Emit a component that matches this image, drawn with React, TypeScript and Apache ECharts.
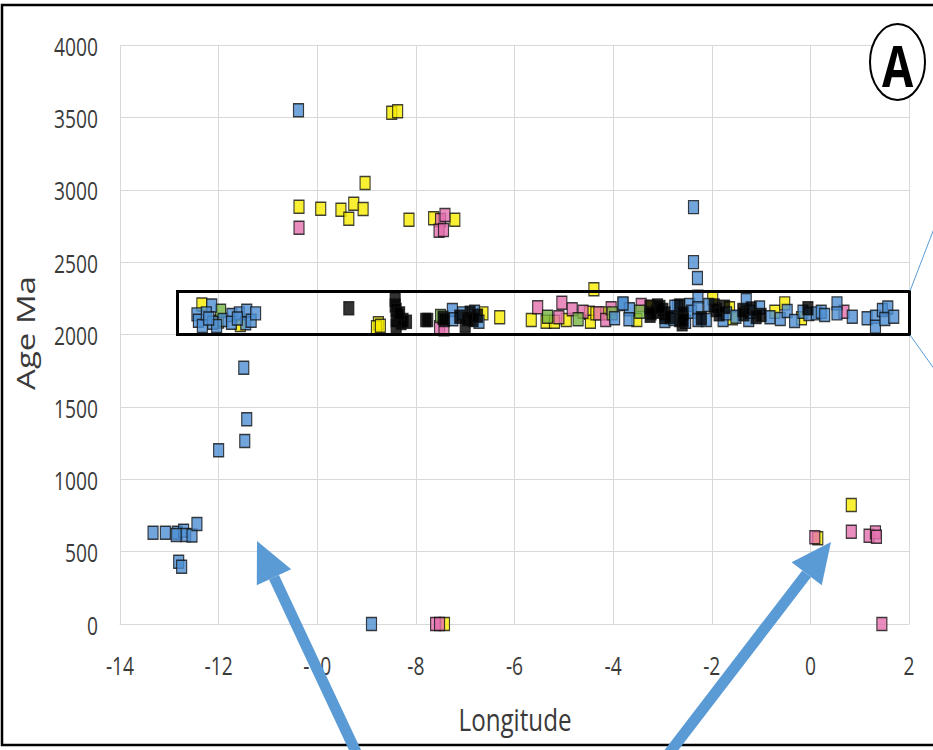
import React, { useEffect, useRef } from "react";
import * as echarts from "echarts";

// ---- tick settings ----
const xMin = -14;
const xMax = 2;
const xStep = 2;
const yMin = 0;
const yMax = 4000;
const yStep = 500;
const xTicks = [-14, -12, -10, -8, -6, -4, -2, 0, 2];
const yTicks = [0, 500, 1000, 1500, 2000, 2500, 3000, 3500, 4000];

// ---- series data: [longitude, age Ma] ----
const blueData: number[][] = [
  [-10.38, 3550], [-2.37, 2880], [-2.37, 2500], [-2.29, 2390],
  [-11.49, 1770], [-11.43, 1415], [-11.47, 1265], [-12.0, 1200], [-8.9, 0],
  [-13.33, 631], [-13.08, 631], [-12.84, 631], [-12.71, 645], [-12.67, 615],
  [-12.54, 611], [-12.44, 691], [-12.86, 615], [-12.81, 430], [-12.75, 396],
  [-12.14, 2201], [-12.44, 2139], [-12.41, 2095], [-12.33, 2059], [-12.25, 2146],
  [-12.12, 2081], [-11.91, 2100], [-11.73, 2135], [-11.74, 2081], [-11.58, 2146],
  [-11.43, 2164], [-11.45, 2077], [-11.34, 2095], [-11.25, 2146], [-12.04, 2059],
  [-12.2, 2110], [-11.62, 2110],
  [-7.26, 2169], [-7.25, 2105], [-7.05, 2146], [-6.81, 2157], [-6.72, 2088],
  [-3.97, 2112], [-3.8, 2211], [-3.67, 2174], [-3.68, 2105], [-3.8, 2215],
  [-2.95, 2093], [-2.77, 2107], [-2.69, 2192], [-2.75, 2192], [-2.53, 2088],
  [-2.45, 2204], [-2.41, 2157], [-2.28, 2261], [-2.28, 2181], [-2.28, 2100],
  [-2.11, 2100], [-2.06, 2204], [-1.77, 2100], [-1.7, 2146], [-1.51, 2123],
  [-1.3, 2238], [-1.25, 2100], [-1.22, 2157], [-1.03, 2186], [-0.82, 2119],
  [-0.61, 2107], [-0.47, 2162], [-0.32, 2093], [-0.15, 2157], [-0.03, 2142],
  [0.12, 2146], [0.22, 2157], [0.29, 2135], [0.54, 2215], [0.54, 2146],
  [0.85, 2123], [1.15, 2112], [1.32, 2123], [1.32, 2054], [1.46, 2169],
  [1.57, 2186], [1.51, 2107], [1.69, 2123]
];

const yellowData: number[][] = [
  [-10.37, 2883], [-9.93, 2869], [-9.52, 2862], [-9.36, 2800], [-9.26, 2903],
  [-9.07, 2867], [-9.03, 3046], [-8.49, 3532], [-8.37, 3542], [-8.14, 2793],
  [-7.64, 2803], [-7.21, 2793], [-7.42, 0],
  [0.83, 822], [0.15, 592],
  [-12.34, 2208], [-11.56, 2066], [-12.0, 2090],
  [-8.76, 2077], [-8.8, 2050], [-8.72, 2060],
  [-6.64, 2146], [-6.3, 2119], [-4.39, 2312], [-5.66, 2100], [-5.36, 2088],
  [-5.19, 2088], [-4.95, 2100], [-4.48, 2150], [-4.46, 2088], [-4.35, 2146],
  [-4.15, 2146], [-3.52, 2100], [-3.26, 2192], [-1.98, 2250], [-1.64, 2181],
  [-1.58, 2112], [-0.72, 2157], [-0.52, 2215], [-0.18, 2112]
];

const pinkData: number[][] = [
  [-10.37, 2738], [-7.5, 2791], [-7.41, 2825], [-7.53, 2717], [-7.44, 2722],
  [-7.6, 0], [-7.52, 0], [1.45, 0],
  [0.83, 638], [0.09, 599], [1.19, 610], [1.32, 633], [1.34, 603],
  [-7.52, 2050], [-7.43, 2036],
  [-5.53, 2188], [-5.04, 2220], [-5.1, 2119], [-4.83, 2174], [-4.61, 2157],
  [-4.29, 2146], [-4.15, 2100], [-4.04, 2181], [-3.43, 2204], [0.68, 2157]
];

const greenData: number[][] = [
  [-11.96, 2164], [-7.5, 2128], [-5.33, 2123], [-4.71, 2105], [-4.02, 2146],
  [-3.46, 2157]
];

const blackData: number[][] = [
  [-9.36, 2181], [-8.42, 2240], [-8.42, 2200], [-8.4, 2169], [-8.4, 2100],
  [-8.4, 2059], [-8.36, 2130], [-8.3, 2080], [-8.26, 2100], [-8.19, 2088],
  [-8.33, 2146],
  [-7.8, 2100], [-7.76, 2100], [-7.45, 2115], [-7.42, 2100], [-7.11, 2123],
  [-7.0, 2060], [-6.95, 2105], [-6.9, 2150], [-6.84, 2100], [-6.75, 2130],
  [-3.25, 2190], [-3.25, 2130], [-3.1, 2200], [-3.12, 2157], [-3.23, 2146],
  [-2.95, 2146], [-2.95, 2120], [-2.99, 2169], [-3.05, 2190], [-2.85, 2120],
  [-2.65, 2200], [-2.65, 2100], [-2.6, 2070], [-2.58, 2146], [-2.58, 2100],
  [-2.21, 2112], [-1.95, 2200], [-1.91, 2169], [-1.85, 2140], [-1.74, 2192],
  [-1.37, 2169], [-1.35, 2140], [-1.2, 2180], [-1.1, 2120], [-1.0, 2135],
  [-0.05, 2181]
];

const FONT = "'Open Sans', sans-serif";
const TEXT = "#3a3a3a";
const ARROW = "#5b9bd5";

function arrowPolys(tail: number[], tip: number[], headLen: number, headHalf: number, shaftHalf: number) {
  const dx = tip[0] - tail[0];
  const dy = tip[1] - tail[1];
  const L = Math.hypot(dx, dy);
  const ux = dx / L, uy = dy / L;
  const nx = -uy, ny = ux;
  const bx = tip[0] - headLen * ux, by = tip[1] - headLen * uy;
  const head = [
    [tip[0], tip[1]],
    [bx + headHalf * nx, by + headHalf * ny],
    [bx - headHalf * nx, by - headHalf * ny]
  ];
  const shaft = [
    [bx + shaftHalf * nx, by + shaftHalf * ny],
    [tail[0] + shaftHalf * nx, tail[1] + shaftHalf * ny],
    [tail[0] - shaftHalf * nx, tail[1] - shaftHalf * ny],
    [bx - shaftHalf * nx, by - shaftHalf * ny]
  ];
  return [
    { type: "polygon", shape: { points: shaft }, style: { fill: ARROW }, z: 100 },
    { type: "polygon", shape: { points: head }, style: { fill: ARROW }, z: 100 }
  ];
}

function mkSeries(name: string, data: number[][], color: string) {
  return {
    name,
    type: "scatter",
    data,
    symbol: "rect",
    symbolSize: [10, 13],
    itemStyle: { color, borderColor: "#111", borderWidth: 1.3 }
  };
}

export default function App() {
  const ref = useRef<HTMLDivElement>(null);
  useEffect(() => {
    if (!ref.current) return;
    const chart = echarts.init(ref.current, null, { renderer: "svg" });
    const arrow1 = arrowPolys([362, 765], [257, 541], 40, 19, 5.5);
    const arrow2 = arrowPolys([660, 765], [831, 542], 40, 19, 5.5);
    const baseGraphic: any[] = [
      {
        type: "rect",
        shape: { x: 2, y: 5, width: 960, height: 740 },
        style: { fill: "none", stroke: "#000", lineWidth: 2.5 },
        z: 90
      },
      {
        type: "rect",
        shape: { x: 177.5, y: 291.5, width: 732, height: 43 },
        style: { fill: "none", stroke: "#000", lineWidth: 3 },
        z: 90
      },
      {
        type: "line",
        shape: { x1: 910, y1: 291, x2: 935, y2: 226 },
        style: { stroke: ARROW, lineWidth: 1 },
        z: 90
      },
      {
        type: "line",
        shape: { x1: 910, y1: 335, x2: 935, y2: 370 },
        style: { stroke: ARROW, lineWidth: 1 },
        z: 90
      },
      {
        type: "ellipse",
        shape: { cx: 897.5, cy: 62, rx: 27.5, ry: 38 },
        style: { fill: "#fff", stroke: "#000", lineWidth: 2 },
        z: 90
      },
      {
        type: "text",
        x: 897.5,
        y: 64,
        scaleX: 0.78,
        style: {
          text: "A",
          fontFamily: FONT,
          fontWeight: "bold",
          fontSize: 58,
          fill: "#000",
          align: "center",
          verticalAlign: "middle"
        },
        z: 91
      },
      {
        type: "text",
        x: 515,
        y: 719,
        scaleX: 0.78,
        style: {
          text: "Longitude",
          fontFamily: FONT,
          fontSize: 31,
          fill: TEXT,
          align: "center",
          verticalAlign: "middle"
        },
        z: 90
      },
      {
        type: "text",
        x: 25,
        y: 333,
        rotation: Math.PI / 2,
        scaleY: 0.78,
        style: {
          text: "Age Ma",
          fontFamily: FONT,
          fontSize: 33,
          fill: TEXT,
          align: "center",
          verticalAlign: "middle"
        },
        z: 90
      },
      ...arrow1,
      ...arrow2
    ];
    chart.setOption({
      animation: false,
      backgroundColor: "#ffffff",
      grid: { left: 120, right: 24, top: 45, bottom: 126, containLabel: false },
      xAxis: {
        type: "value",
        min: xMin,
        max: xMax,
        interval: xStep,
        axisLine: { show: true, lineStyle: { color: "#d9d9d9", width: 1 } },
        axisTick: { show: false },
        splitLine: { show: true, lineStyle: { color: "#d9d9d9", width: 1 } },
        axisLabel: { show: false }
      },
      yAxis: {
        type: "value",
        min: yMin,
        max: yMax,
        interval: yStep,
        axisLine: { show: false },
        axisTick: { show: false },
        splitLine: { show: true, lineStyle: { color: "#d9d9d9", width: 1 } },
        axisLabel: { show: false }
      },
      series: [
        mkSeries("Yellow", yellowData, "#f8ec00"),
        mkSeries("Pink", pinkData, "#e46fae"),
        mkSeries("Green", greenData, "#76b543"),
        mkSeries("Blue", blueData, "#4e8fd2"),
        mkSeries("Black", blackData, "#000000")
      ],
      graphic: baseGraphic
    });

    // tick labels placed through the chart's own scales (condensed look via scaleX)
    const labelGraphics: any[] = [];
    const y0 = chart.convertToPixel({ yAxisIndex: 0 }, yMin) as number;
    const x0 = chart.convertToPixel({ xAxisIndex: 0 }, xMin) as number;
    xTicks.forEach((v) => {
      const px = chart.convertToPixel({ xAxisIndex: 0 }, v) as number;
      labelGraphics.push({
        type: "text",
        x: px,
        y: y0 + 41,
        scaleX: 0.74,
        style: {
          text: String(v),
          fontFamily: FONT,
          fontSize: 26,
          fill: TEXT,
          align: "center",
          verticalAlign: "middle"
        },
        z: 80
      });
    });
    yTicks.forEach((v) => {
      const py = chart.convertToPixel({ yAxisIndex: 0 }, v) as number;
      labelGraphics.push({
        type: "text",
        x: x0 - 22,
        y: py + 1,
        scaleX: 0.74,
        style: {
          text: String(v),
          fontFamily: FONT,
          fontSize: 26,
          fill: TEXT,
          align: "right",
          verticalAlign: "middle"
        },
        z: 80
      });
    });
    chart.setOption(
      { graphic: [...baseGraphic, ...labelGraphics] },
      { replaceMerge: ["graphic"] }
    );
    return () => chart.dispose();
  }, []);
  return (
    <div
      ref={ref}
      style={{ position: "fixed", left: 0, top: 0, width: 933, height: 750, background: "#fff" }}
    />
  );
}
